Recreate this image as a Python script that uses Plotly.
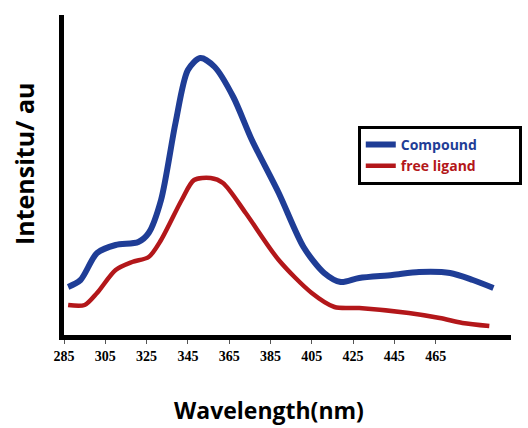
import plotly.graph_objects as go

# Data
compound_wl = [287, 293, 301, 310, 321, 326, 332, 339, 345, 351, 358, 367, 376, 389,
               401, 411, 419, 428, 444, 457, 472, 483, 493]
compound_int = [48, 55, 82, 90, 93, 102, 135, 212, 265, 277, 268, 238, 195, 142,
                88, 62, 53, 57, 60, 63, 62, 55, 47]

ligand_wl = [287, 295, 301, 310, 318, 326, 332, 342, 348, 356, 362, 373, 389, 405,
             416, 428, 452, 467, 478, 491]
ligand_int = [30, 30, 42, 65, 73, 78, 95, 135, 155, 157, 152, 122, 75, 42,
              28, 27, 22, 17, 12, 9]

tick_vals = [285, 305, 325, 345, 365, 385, 405, 425, 445, 465]
tick_text = [str(v) for v in tick_vals]

blue = "#1f3d96"
red = "#b3171a"

fig = go.Figure()
fig.add_trace(go.Scatter(
    x=compound_wl, y=compound_int, mode="lines",
    line=dict(color=blue, width=6, shape="spline", smoothing=0.8),
    name="<span style='color:%s'><b>Compound</b></span>" % blue + "&nbsp;" * 10,
))
fig.add_trace(go.Scatter(
    x=ligand_wl, y=ligand_int, mode="lines",
    line=dict(color=red, width=4.5, shape="spline", smoothing=0.8),
    name="<span style='color:%s'><b>free ligand</b></span>" % red,
))

pl, pr, pt, pb = 64, 6, 15, 93
pw, ph = 528 - pl - pr, 428 - pt - pb

fig.update_layout(
    width=528, height=428,
    margin=dict(l=pl, r=pr, t=pt, b=pb),
    paper_bgcolor="white", plot_bgcolor="white",
    showlegend=True,
    legend=dict(
        x=(365 - pl) / pw, y=(428 - pb - 126) / ph, xanchor="left", yanchor="top",
        bordercolor="black", borderwidth=3, bgcolor="white",
        font=dict(family="Open Sans", size=14, color="black"),
        itemwidth=30, tracegroupgap=0,
    ),
    xaxis=dict(
        range=[285, 501.5], tickmode="array", tickvals=tick_vals, ticktext=tick_text,
        showgrid=False, zeroline=False, showline=True, linecolor="black", linewidth=5,
        ticks="outside", ticklen=4, tickwidth=1, tickcolor="#555",
        tickfont=dict(family="Liberation Serif", size=14, color="black", weight="bold"),
    ),
    yaxis=dict(
        range=[0, 320], showticklabels=False, showgrid=False, zeroline=False,
        showline=True, linecolor="black", linewidth=5, ticks="",
    ),
    annotations=[
        dict(text="<b>Wavelength(nm)</b>", x=(274 - pl) / pw, y=(428 - pb - 410) / ph,
             xref="paper", yref="paper", xanchor="center", yanchor="middle",
             showarrow=False, font=dict(family="Open Sans", size=23, color="black")),
        dict(text="<b>Intensitu/ au</b>", x=(23 - pl) / pw, y=(428 - pb - 164) / ph,
             xref="paper", yref="paper", xanchor="center", yanchor="middle",
             textangle=-90, showarrow=False,
             font=dict(family="Open Sans", size=25, color="black")),
    ],
)

fig.write_html("out.html", config={"displayModeBar": False},
               post_script="document.body.style.margin='0';document.body.style.overflow='hidden';")
